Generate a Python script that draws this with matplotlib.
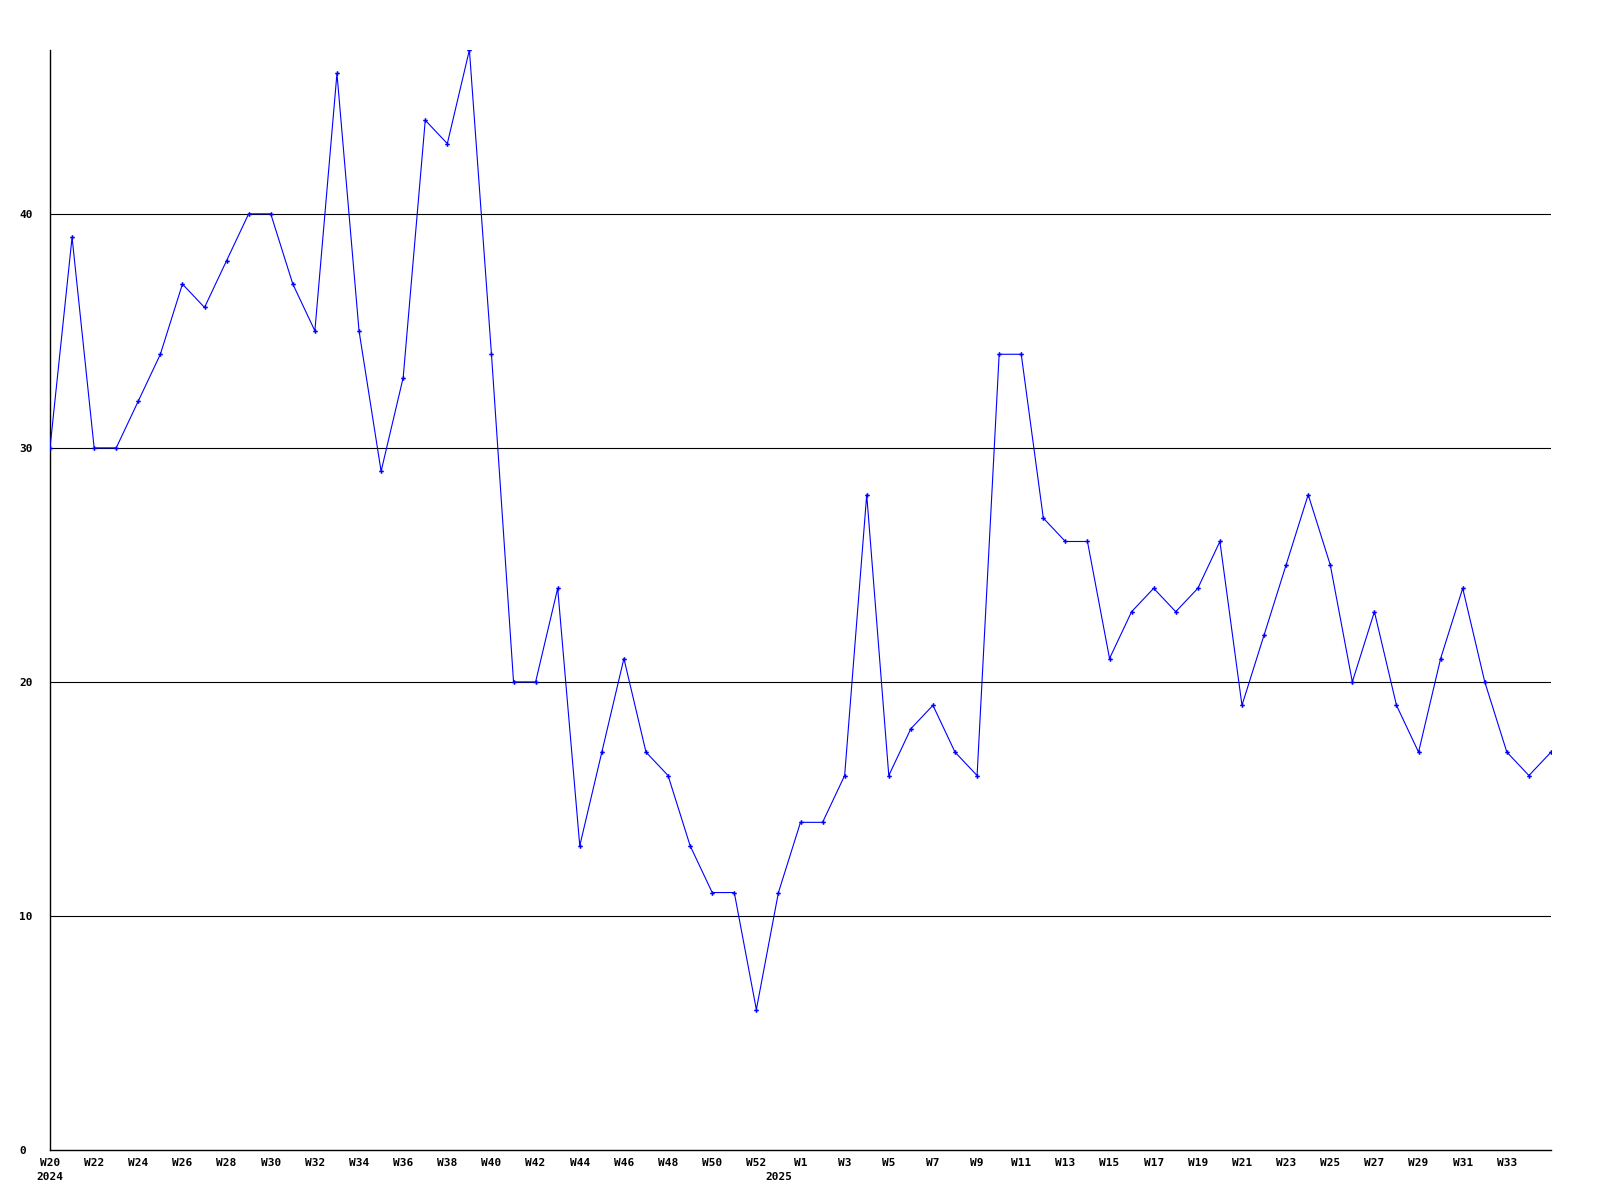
import matplotlib
matplotlib.use('Agg')
import matplotlib.pyplot as plt
import matplotlib.transforms as mtransforms

# weekly values, W20 2024 .. W35 2025
valores = [30, 39, 30, 30, 32, 34, 37, 36, 38, 40,
           40, 37, 35, 46, 35, 29, 33, 44, 43, 47,
           34, 20, 20, 24, 13, 17, 21, 17, 16, 13,
           11, 11, 6, 11, 14, 14, 16, 28, 16, 18,
           19, 17, 16, 34, 34, 27, 26, 26, 21, 23,
           24, 23, 24, 26, 19, 22, 25, 28, 25, 20,
           23, 19, 17, 21, 24, 20, 17, 16, 17]

rotulos_pos = list(range(0, 33, 2)) + list(range(34, 67, 2))
rotulos = ['W%d' % w for w in range(20, 53, 2)] + ['W%d' % w for w in range(1, 34, 2)]
anos = ['2024', '2025']
anos_pos = [0, 33]
y_ticks = [0, 10, 20, 30, 40]

fonte = {'family': 'DejaVu Sans Mono', 'weight': 'bold', 'size': 8}

fig = plt.figure(figsize=(16, 12), dpi=100)
ax = fig.add_axes([50 / 1600, 50 / 1200, 1501 / 1600, 1100 / 1200])

x = list(range(len(valores)))
ax.plot(x, valores, color='#0000ff', linewidth=0.8, marker='P', markersize=3.3,
        markeredgewidth=0, zorder=3)

ax.set_xlim(0, len(valores) - 1)
ax.set_ylim(0, 47)

for v in y_ticks[1:]:
    ax.axhline(v, color='black', linewidth=0.8, zorder=1)

ax.set_yticks(y_ticks)
ax.set_yticklabels([str(v) for v in y_ticks], fontdict=fonte)
plt.setp(ax.get_yticklabels(), ha='left')
ax.tick_params(axis='y', length=0, pad=22)

ax.set_xticks(rotulos_pos)
ax.set_xticklabels(rotulos, fontdict=fonte)
ax.tick_params(axis='x', length=0, pad=6)

# year labels under the first week of each year
trans = mtransforms.blended_transform_factory(ax.transData, ax.transAxes)
for a, p in zip(anos, anos_pos):
    ax.text(p, -0.02, a, transform=trans, ha='center', va='top', fontdict=fonte)

for lado in ['top', 'right']:
    ax.spines[lado].set_visible(False)
for lado in ['left', 'bottom']:
    ax.spines[lado].set_linewidth(1.0)

fig.savefig('out.png', dpi=100)
